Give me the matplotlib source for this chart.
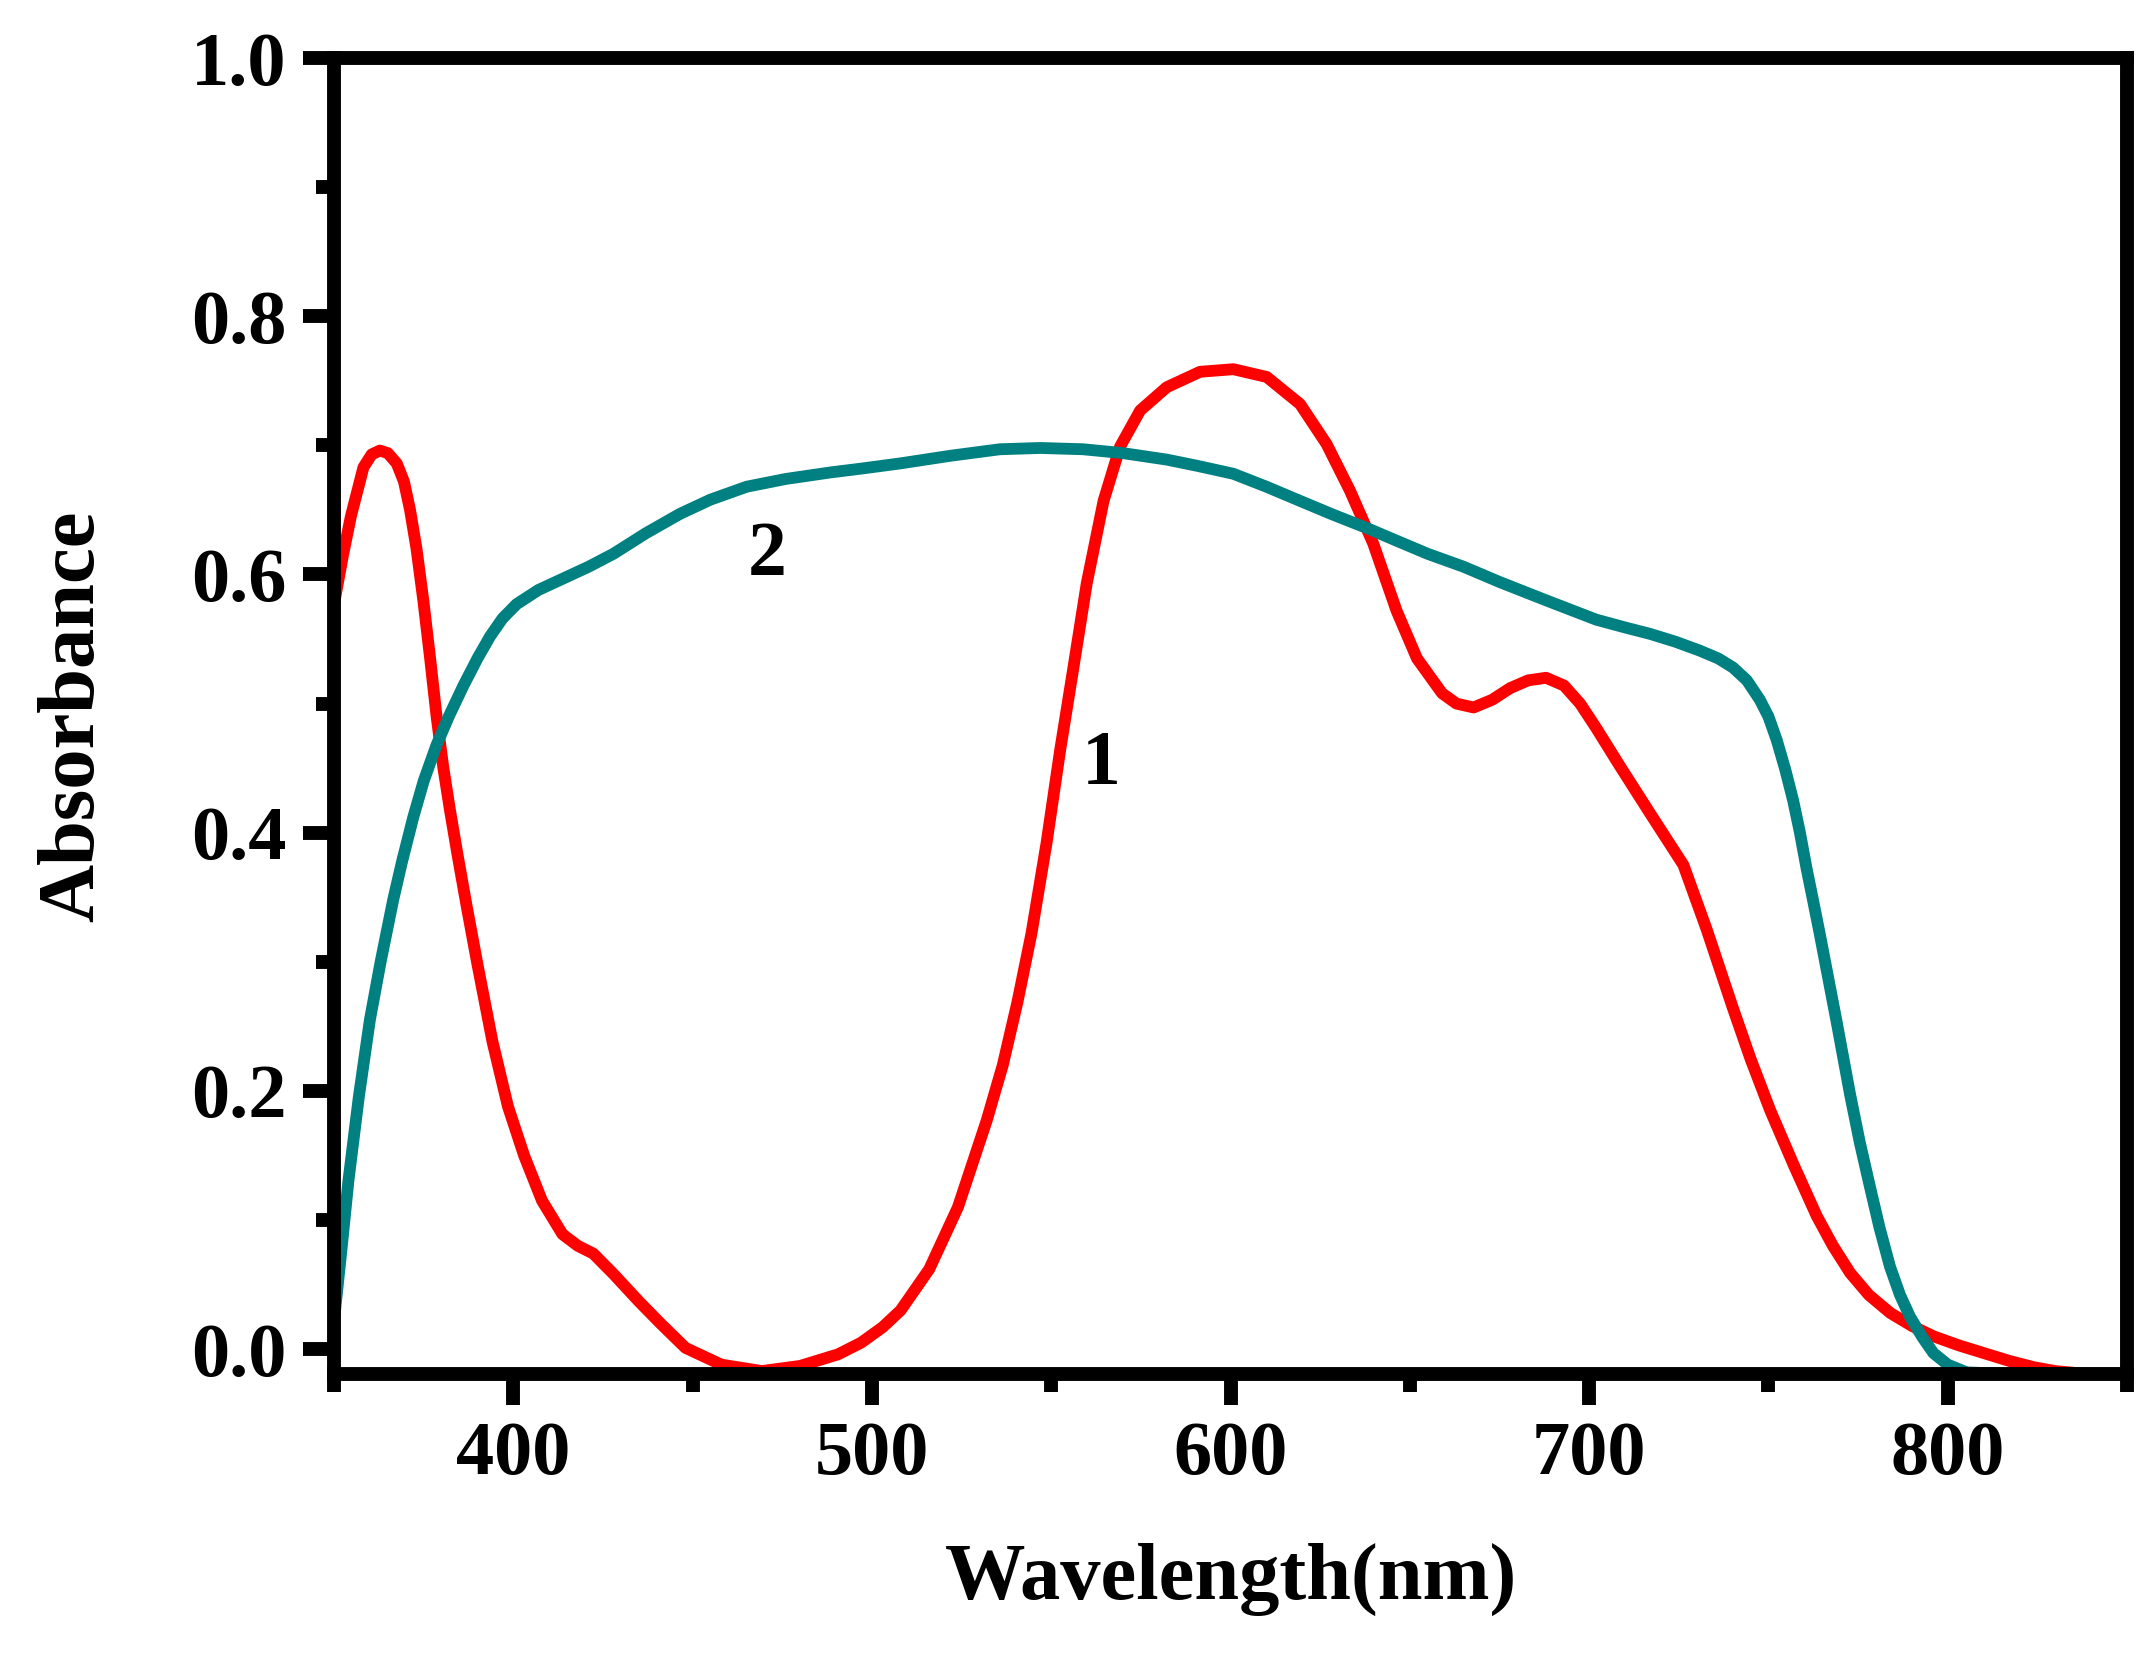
import matplotlib
matplotlib.use('Agg')
import matplotlib.pyplot as plt
from matplotlib.ticker import MultipleLocator

# curve 1 (red)
wl_1 = [350, 352.5, 354.7, 358.2, 360.5, 362.8, 365, 367.5, 369.5, 371.2, 373, 374.9,
        376.8, 378.6, 380.5, 382.3, 384.5, 387, 390, 394.2, 398.5, 403, 408, 413.7,
        418, 422.3, 428, 435, 441, 448, 458, 469.3, 480, 490.6, 497, 503,
        508, 516, 524, 532, 536.5, 540.6, 544.5, 548.7, 552.5, 556.2, 559.9, 564.6,
        569.2, 574.8, 582.2, 591.5, 600.8, 610.1, 619.4, 626.8, 633.3, 639.8, 646.3, 652,
        659, 663, 667.8, 673, 678, 683, 688, 693, 697.5, 702, 708.5, 717,
        726.3, 732.8, 740, 745, 750.5, 757, 763.5, 768, 772.8, 778, 784, 790,
        796, 803, 810, 817, 824, 830, 837.7, 850]
abs_1 = [0.577, 0.615, 0.645, 0.683, 0.693, 0.696, 0.694, 0.686, 0.672, 0.65, 0.62, 0.58,
         0.535, 0.49, 0.45, 0.418, 0.382, 0.343, 0.298, 0.238, 0.188, 0.15, 0.115, 0.089,
         0.08, 0.074, 0.058, 0.037, 0.02, 0.001, -0.012, -0.017, -0.013, -0.004, 0.005, 0.017,
         0.03, 0.062, 0.11, 0.177, 0.22, 0.269, 0.322, 0.392, 0.464, 0.528, 0.593, 0.657,
         0.699, 0.727, 0.745, 0.757, 0.759, 0.753, 0.732, 0.701, 0.665, 0.624, 0.572, 0.535,
         0.508, 0.5, 0.497, 0.503, 0.512, 0.518, 0.52, 0.514, 0.5, 0.481, 0.452, 0.415,
         0.375, 0.325, 0.265, 0.225, 0.185, 0.143, 0.103, 0.08, 0.059, 0.042, 0.028, 0.018,
         0.010, 0.003, -0.003, -0.009, -0.014, -0.017, -0.019, -0.019]

# curve 2 (teal)
wl_2 = [350, 352, 354, 356.9, 360, 363, 366.5, 369, 372.1, 375, 378.6, 382,
        386.1, 390, 393.5, 397, 400.9, 407, 414, 421, 427.9, 437, 446.5, 455,
        465.1, 476, 488.3, 497, 507.8, 522, 535.7, 547, 558.9, 570, 582.2, 591,
        600.8, 610, 619.4, 628, 638, 647.3, 655, 665, 675.2, 688, 702, 710,
        717, 724, 730.9, 736, 740.1, 744, 747.6, 750, 752.3, 754.7, 756.9, 758.8,
        760.6, 762.5, 764.3, 767.2, 769, 772.8, 775.5, 778.3, 781, 783.9, 786.7, 789.5,
        793, 796, 800, 805.3, 815, 850]
abs_2 = [0.022, 0.075, 0.13, 0.195, 0.255, 0.3, 0.348, 0.378, 0.412, 0.44, 0.468, 0.49,
         0.514, 0.535, 0.552, 0.566, 0.577, 0.588, 0.597, 0.606, 0.616, 0.632, 0.647, 0.658,
         0.668, 0.674, 0.679, 0.682, 0.686, 0.692, 0.697, 0.698, 0.697, 0.694, 0.689, 0.684,
         0.678, 0.668, 0.657, 0.647, 0.636, 0.625, 0.616, 0.606, 0.594, 0.58, 0.565, 0.559,
         0.554, 0.548, 0.541, 0.535, 0.528, 0.518, 0.503, 0.49, 0.472, 0.449, 0.425, 0.4,
         0.373, 0.347, 0.322, 0.28, 0.254, 0.197, 0.16, 0.126, 0.094, 0.064, 0.042, 0.025,
         0.009, -0.003, -0.012, -0.018, -0.019, -0.019]

curve_labels = ['1', '2']
label_pos = [(564, 0.452), (470.7, 0.614)]

plt.rcParams['font.family'] = ['Liberation Serif', 'DejaVu Serif']
plt.rcParams['font.weight'] = 'bold'

fig = plt.figure(figsize=(21.55, 16.59), dpi=100)
ax = fig.add_axes([0.155, 0.172, 0.832, 0.793])

ax.plot(wl_1, abs_1, color='#ff0000', linewidth=8.5, solid_joinstyle='round',
        solid_capstyle='round')
ax.plot(wl_2, abs_2, color='#008080', linewidth=8.5, solid_joinstyle='round',
        solid_capstyle='round')

for txt, (x, y) in zip(curve_labels, label_pos):
    ax.text(x, y, txt, fontsize=56, fontweight='bold', ha='center', va='center')

ax.set_xlim(350, 850)
ax.set_ylim(-0.019, 1.0)

ax.xaxis.set_major_locator(MultipleLocator(100))
ax.xaxis.set_minor_locator(MultipleLocator(50))
ax.yaxis.set_minor_locator(MultipleLocator(0.1))
ax.set_yticks([0.0, 0.2, 0.4, 0.6, 0.8, 1.0])
ax.set_yticklabels(['0.0', '0.2', '0.4', '0.6', '0.8', '1.0'])
ax.set_xticks([400, 500, 600, 700, 800])

for s in ax.spines.values():
    s.set_linewidth(10)

ax.tick_params(which='major', direction='out', length=22, width=10,
               labelsize=55, pad=12)
ax.tick_params(which='minor', direction='out', length=13, width=10)
ax.tick_params(top=False, right=False, which='both')

ax.set_xlabel('Wavelength(nm)', fontsize=58, fontweight='bold', labelpad=38)
ax.set_ylabel('Absorbance', fontsize=58, fontweight='bold', labelpad=58)

fig.savefig('out.png', dpi=100)
